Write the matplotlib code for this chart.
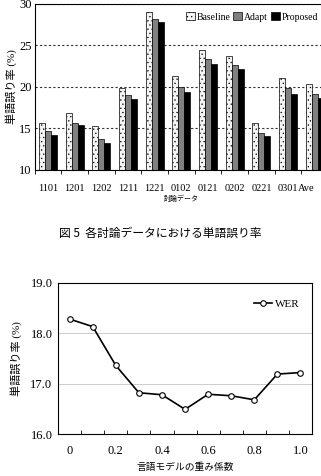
import matplotlib
matplotlib.use("Agg")
import matplotlib.pyplot as plt
import numpy as np

plt.rcParams['font.family'] = ['Liberation Serif', 'Noto Sans CJK JP']
plt.rcParams['hatch.color'] = '#a8a8a8'
plt.rcParams['hatch.linewidth'] = 0.4

# Top chart data
groups = ["1101", "1201", "1202", "1211", "1221", "0102", "0121", "0202", "0221", "0301", "Ave"]
series_names = ["Baseline", "Adapt", "Proposed"]
baseline = [15.7, 16.8, 15.3, 19.9, 29.0, 21.3, 24.4, 23.7, 15.7, 21.1, 20.3]
adapt = [14.7, 15.7, 13.7, 19.0, 28.2, 20.0, 23.3, 22.6, 14.4, 19.9, 19.2]
proposed = [14.2, 15.4, 13.3, 18.5, 27.8, 19.4, 22.7, 22.1, 14.1, 19.1, 18.7]
top_yticks = [10, 15, 20, 25, 30]

# Bottom chart data
weights = ["0", "0.1", "0.2", "0.3", "0.4", "0.5", "0.6", "0.7", "0.8", "0.9", "1.0"]
wer = [18.28, 18.13, 17.36, 16.82, 16.78, 16.49, 16.79, 16.76, 16.68, 17.19, 17.22]
bot_yticks = [16, 17, 18, 19]

fig = plt.figure(figsize=(3.21, 4.76), dpi=100)

# ---- top bar chart ----
ax = fig.add_axes([0.108, 0.643, 0.914, 0.349])
x = np.arange(len(groups))
w = 0.225
styles = [dict(facecolor="#f4f4f4", hatch="...."), dict(facecolor="#808080"), dict(facecolor="#000000")]
for i, (vals, name, st) in enumerate(zip([baseline, adapt, proposed], series_names, styles)):
    ax.bar(x + (i - 1) * w, vals, w, label=name, edgecolor="black", linewidth=0.5, **st)
ax.set_xlim(-0.5, len(groups) - 0.5)
ax.set_ylim(top_yticks[0], top_yticks[-1])
ax.set_yticks(top_yticks)
ax.set_yticklabels([str(t) for t in top_yticks], fontsize=9)
ax.set_xticks(x)
ax.set_xticklabels(groups, fontsize=7.5)
ax.get_xticklabels()[-1].set_horizontalalignment("right")
ax.set_xticks(np.arange(-0.5, len(groups), 1), minor=True)
ax.tick_params(axis='x', which='major', length=0, pad=10)
ax.tick_params(axis='x', which='minor', length=3, direction='out')
ax.tick_params(axis='y', length=0, pad=2)
ax.yaxis.grid(True, linestyle=(0, (2, 2)), color="#333333", linewidth=0.8)
ax.set_axisbelow(True)
ax.spines["right"].set_visible(False)
ax.spines["top"].set_linestyle((0, (2, 1)))
ax.set_ylabel("単語誤り率 (%)", fontsize=8, labelpad=2)
ax.set_xlabel("討論データ", fontsize=5, labelpad=1)
ax.legend(loc="upper right", bbox_to_anchor=(0.985, 0.985), ncol=3, fontsize=7, frameon=False,
          handlelength=0.9, handleheight=0.9, handletextpad=0.2, columnspacing=0.3, borderaxespad=0.2)

fig.text(0.5, 1 - 233 / 476, "図 5  各討論データにおける単語誤り率", ha="center", va="center",
         fontsize=8.5, family=["Noto Sans CJK JP"])

# ---- bottom line chart ----
ax2 = fig.add_axes([0.181, 0.088, 0.791, 0.318])
xi = np.arange(len(weights))
ax2.plot(xi, wer, color="black", linewidth=1.2, marker="o", markersize=4,
         markerfacecolor="white", markeredgecolor="black", markeredgewidth=0.8, label="WER")
ax2.set_xlim(-0.5, len(weights) - 0.5)
ax2.set_ylim(bot_yticks[0], bot_yticks[-1])
ax2.set_yticks(bot_yticks)
ax2.set_yticklabels([f"{t:.1f}" for t in bot_yticks], fontsize=9)
ax2.set_xticks(xi[::2])
ax2.set_xticklabels(weights[::2], fontsize=9)
ax2.set_xticks(np.arange(0.5, len(weights) - 1, 1), minor=True)
ax2.tick_params(axis='x', which='major', length=0, pad=8)
ax2.tick_params(axis='x', which='minor', length=3, direction='in')
ax2.tick_params(axis='y', length=0, pad=4)
ax2.yaxis.grid(True, color="#cccccc", linewidth=0.7)
ax2.set_axisbelow(True)
for s in ax2.spines.values():
    s.set_linewidth(0.8)
ax2.set_ylabel("単語誤り率 (%)", fontsize=8, labelpad=6)
ax2.set_xlabel("言語モデルの重み係数", fontsize=7, labelpad=4)
ax2.legend(loc="upper right", fontsize=8, frameon=False, handlelength=1.6, handletextpad=0.3,
           bbox_to_anchor=(0.99, 0.96))

fig.savefig("out.png", dpi=100)
